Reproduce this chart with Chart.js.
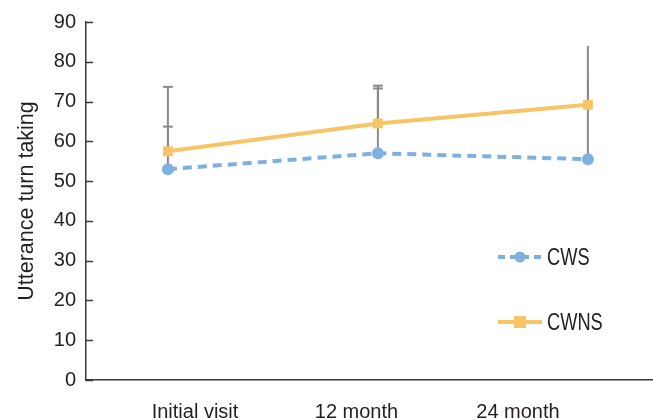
<!DOCTYPE html>
<html>
<head>
<meta charset="utf-8">
<script src="https://cdn.jsdelivr.net/npm/chart.js@4"></script>
<style>
html,body{margin:0;padding:0;background:#fff;}
#wrap{width:653px;height:420px;position:relative;}
</style>
</head>
<body>
<div id="wrap"><canvas id="c" width="653" height="420"></canvas></div>
<script>
const categories = ['Initial visit', '12 month', '24 month'];
const yTicks = [0, 10, 20, 30, 40, 50, 60, 70, 80, 90];
const cwsValues = [53, 57, 55.5];
const cwnsValues = [57.5, 64.5, 69.2];
const cwsUpper = [63.7, 73.3, 84];
const cwnsUpper = [73.7, 74, 76];
const seriesNames = ['CWS', 'CWNS'];

const FONT = "'Liberation Sans', Arial, sans-serif";
const TEXT = '#231f20';
const BLUE = '#7eb1de';
const YELLOW = '#f7c565';

const errorBars = {
  id: 'errorBars',
  beforeDatasetsDraw(chart) {
    const ctx = chart.ctx, x = chart.scales.x, y = chart.scales.y;
    ctx.save();
    ctx.strokeStyle = '#8a8a8a';
    ctx.lineWidth = 2;
    [[cwsValues, cwsUpper], [cwnsValues, cwnsUpper]].forEach(([vals, ups]) => {
      vals.forEach((v, i) => {
        const px = x.getPixelForValue(i);
        const p0 = y.getPixelForValue(v), p1 = y.getPixelForValue(ups[i]);
        ctx.beginPath(); ctx.moveTo(px, p0); ctx.lineTo(px, p1); ctx.stroke();
        if (i < 2) {
          ctx.beginPath(); ctx.moveTo(px - 5, p1); ctx.lineTo(px + 5, p1); ctx.stroke();
        }
      });
    });
    ctx.restore();
  },
  afterDraw(chart) {
    const ctx = chart.ctx, y = chart.scales.y, area = chart.chartArea;
    ctx.save();
    ctx.strokeStyle = '#3a3a3a';
    ctx.lineWidth = 1.5;
    yTicks.forEach(t => {
      const py = Math.round(y.getPixelForValue(t)) + 0.5;
      ctx.beginPath(); ctx.moveTo(area.left, py); ctx.lineTo(area.left + 7, py); ctx.stroke();
    });
    // legend
    const items = [
      {name: seriesNames[0], color: BLUE, dash: [7, 5], shape: 'circle', y: 257},
      {name: seriesNames[1], color: YELLOW, dash: [], shape: 'square', y: 322}
    ];
    items.forEach(it => {
      ctx.strokeStyle = it.color; ctx.fillStyle = it.color; ctx.lineWidth = 4;
      ctx.setLineDash(it.dash);
      ctx.beginPath(); ctx.moveTo(498, it.y); ctx.lineTo(542, it.y); ctx.stroke();
      ctx.setLineDash([]);
      if (it.shape === 'circle') { ctx.beginPath(); ctx.arc(520, it.y, 5.5, 0, Math.PI * 2); ctx.fill(); }
      else ctx.fillRect(514, it.y - 6, 12, 12);
      ctx.save();
      ctx.translate(547, it.y + 1);
      ctx.scale(0.76, 1);
      ctx.fillStyle = TEXT;
      ctx.font = '24px ' + FONT;
      ctx.textBaseline = 'middle'; ctx.textAlign = 'left';
      ctx.fillText(it.name, 0, 0);
      ctx.restore();
    });
    ctx.restore();
  }
};

new Chart(document.getElementById('c'), {
  type: 'line',
  data: {
    datasets: [
      {
        label: seriesNames[0],
        data: cwsValues.map((v, i) => ({x: i, y: v})),
        borderColor: BLUE, backgroundColor: BLUE,
        borderWidth: 4, borderDash: [9, 6],
        pointStyle: 'circle', pointRadius: 6, pointBorderWidth: 0,
        tension: 0
      },
      {
        label: seriesNames[1],
        data: cwnsValues.map((v, i) => ({x: i, y: v})),
        borderColor: YELLOW, backgroundColor: YELLOW,
        borderWidth: 4,
        pointStyle: 'rect', pointRadius: 7, pointBorderWidth: 0,
        tension: 0
      }
    ]
  },
  options: {
    responsive: false,
    animation: false,
    layout: {autoPadding: false, padding: {top: 20, right: 0, left: 0, bottom: 0}},
    plugins: {legend: {display: false}, tooltip: {enabled: false}},
    scales: {
      x: {
        type: 'linear',
        min: -0.39, max: 2.31,
        afterFit(s) { s.height = 40; },
        afterBuildTicks(s) {
          s.ticks = categories.map((c, i) => ({value: 0.129 + i * 0.769}));
        },
        ticks: {
          color: TEXT, padding: 20, maxRotation: 0, autoSkip: false,
          font: {size: 20, family: FONT},
          callback: (v, i) => categories[i]
        },
        grid: {display: false, drawTicks: false},
        border: {display: true, color: '#3a3a3a', width: 1.5}
      },
      y: {
        min: 0, max: 90,
        afterFit(s) { s.width = 86; },
        afterBuildTicks(s) { s.ticks = yTicks.map(v => ({value: v})); },
        ticks: {color: TEXT, padding: 10, font: {size: 20, family: FONT}},
        grid: {display: false, drawTicks: false},
        border: {display: true, color: '#3a3a3a', width: 1.5},
        title: {display: true, text: 'Utterance turn taking', color: TEXT, font: {size: 21.5, family: FONT}, padding: {top: 14, bottom: 0}}
      }
    }
  },
  plugins: [errorBars]
});
</script>
</body>
</html>
